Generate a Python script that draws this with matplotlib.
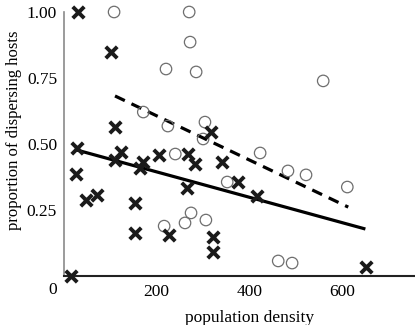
import matplotlib
matplotlib.use("Agg")
import matplotlib.pyplot as plt

# crosses (filled series)
cross_x = [30, 101, 110, 28, 110, 123, 171, 164, 26, 47, 71, 153, 153, 227, 15,
           205, 268, 283, 265, 341, 317, 376, 417, 322, 322, 652]
cross_y = [1.0, 0.848, 0.564, 0.485, 0.439, 0.470, 0.432, 0.409, 0.386, 0.288, 0.307,
           0.277, 0.163, 0.155, 0.0, 0.458, 0.462, 0.424, 0.333, 0.432, 0.545, 0.356,
           0.303, 0.148, 0.091, 0.034]

# open circles
circ_x = [108, 270, 272, 220, 285, 171, 224, 240, 304, 300, 559, 423, 483, 522,
          611, 352, 306, 462, 492, 216, 261, 274]
circ_y = [1.0, 1.0, 0.886, 0.784, 0.773, 0.621, 0.568, 0.462, 0.583, 0.519, 0.739,
          0.466, 0.398, 0.383, 0.337, 0.356, 0.212, 0.057, 0.049, 0.189, 0.201, 0.239]

# fitted lines (endpoints)
solid_x = [28, 650]
solid_y = [0.477, 0.178]
dash_x = [110, 613]
dash_y = [0.682, 0.261]

x_ticks = [200, 400, 600]
y_ticks = [0.25, 0.50, 0.75, 1.00]
y_ticklabels = ["0.25", "0.50", "0.75", "1.00"]

plt.rcParams['font.family'] = ['Liberation Serif', 'DejaVu Serif']

fig = plt.figure(figsize=(4.15, 3.25), dpi=100)
ax = fig.add_axes([64/415, 49/325, 351/415, 264/325])

ax.plot(solid_x, solid_y, color='black', lw=2.3, solid_capstyle='butt', zorder=2)
ax.plot(dash_x, dash_y, color='black', lw=2.3, dashes=(3.4, 2.3),
        dash_capstyle='butt', zorder=2)
ax.scatter(circ_x, circ_y, s=68, facecolors='none', edgecolors='#6e6e6e',
           linewidths=0.9, zorder=3, clip_on=False)
ax.scatter(cross_x, cross_y, s=68, marker='x', color='#1a1a1a', linewidths=2.8,
           zorder=4, clip_on=False)

ax.set_xlim(0, 757)
ax.set_ylim(0, 1.0)
ax.set_xticks(x_ticks)
ax.set_yticks(y_ticks)
ax.set_yticklabels(y_ticklabels)
ax.tick_params(axis='both', length=0, labelsize=12.5)
ax.tick_params(axis='y', pad=5)
ax.tick_params(axis='x', pad=6)
ax.spines['top'].set_visible(False)
ax.spines['right'].set_visible(False)
ax.spines['left'].set_color('#8a8a8a')
ax.spines['left'].set_linewidth(1.2)
ax.spines['bottom'].set_color('#222222')
ax.spines['bottom'].set_linewidth(1.5)

ax.text(-15, -0.053, "0", transform=ax.transData, ha='right', va='center',
        fontsize=12.5)

ax.set_xlabel("population density", fontsize=12.5)
ax.set_ylabel("proportion of dispersing hosts", fontsize=12)
ax.xaxis.set_label_coords(0.530, -0.128)
ax.yaxis.set_label_coords(-0.12, 0.553)

fig.savefig("out.png", dpi=100)
